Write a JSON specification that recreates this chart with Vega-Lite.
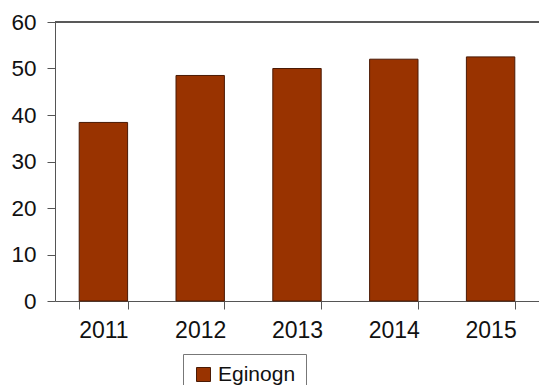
{
  "$schema": "https://vega.github.io/schema/vega-lite/v6.json",
  "width": 484,
  "height": 279,
  "autosize": {"type": "none"},
  "padding": {"left": 55, "top": 22, "right": 0, "bottom": 84},
  "background": "white",
  "config": {
    "view": {"stroke": null},
    "font": "Liberation Sans"
  },
  "data": {
    "values": [
      {"year": "2011", "value": 38.4, "series": "Eginogn"},
      {"year": "2012", "value": 48.5, "series": "Eginogn"},
      {"year": "2013", "value": 50.0, "series": "Eginogn"},
      {"year": "2014", "value": 52.0, "series": "Eginogn"},
      {"year": "2015", "value": 52.5, "series": "Eginogn"}
    ]
  },
  "layer": [
    {
      "mark": {"type": "bar", "stroke": "#4a1a05", "strokeWidth": 1},
      "encoding": {
        "x": {
          "field": "year",
          "type": "nominal",
          "scale": {"paddingInner": 0.5, "paddingOuter": 0.25},
          "axis": {
            "title": null,
            "labelAngle": 0,
            "labelFontSize": 23,
            "labelColor": "#111",
            "labelPadding": 10,
            "tickBand": "extent",
            "tickSize": 8,
            "tickColor": "#555",
            "domainColor": "#555",
            "grid": false
          }
        },
        "y": {
          "field": "value",
          "type": "quantitative",
          "scale": {"domain": [0, 60]},
          "axis": {
            "title": null,
            "values": [0, 10, 20, 30, 40, 50, 60],
            "labelFontSize": 22.5,
            "labelColor": "#111",
            "labelPadding": 11,
            "tickSize": 8,
            "tickColor": "#555",
            "domainColor": "#555",
            "grid": false
          }
        },
        "color": {
          "field": "series",
          "type": "nominal",
          "scale": {"range": ["#993300"]},
          "legend": {
            "title": null,
            "orient": "none",
            "legendX": 128,
            "legendY": 332,
            "symbolType": "square",
            "symbolSize": 196,
            "symbolStrokeColor": "#4a1a05",
            "symbolStrokeWidth": 1,
            "labelFontSize": 21,
            "labelColor": "#111",
            "labelLimit": 200,
            "labelOffset": 4,
            "strokeColor": "#777",
            "padding": 10,
            "fillColor": "white"
          }
        }
      }
    },
    {
      "mark": {"type": "rule", "color": "#555", "strokeWidth": 1},
      "encoding": {"y": {"datum": 60}}
    }
  ]
}
